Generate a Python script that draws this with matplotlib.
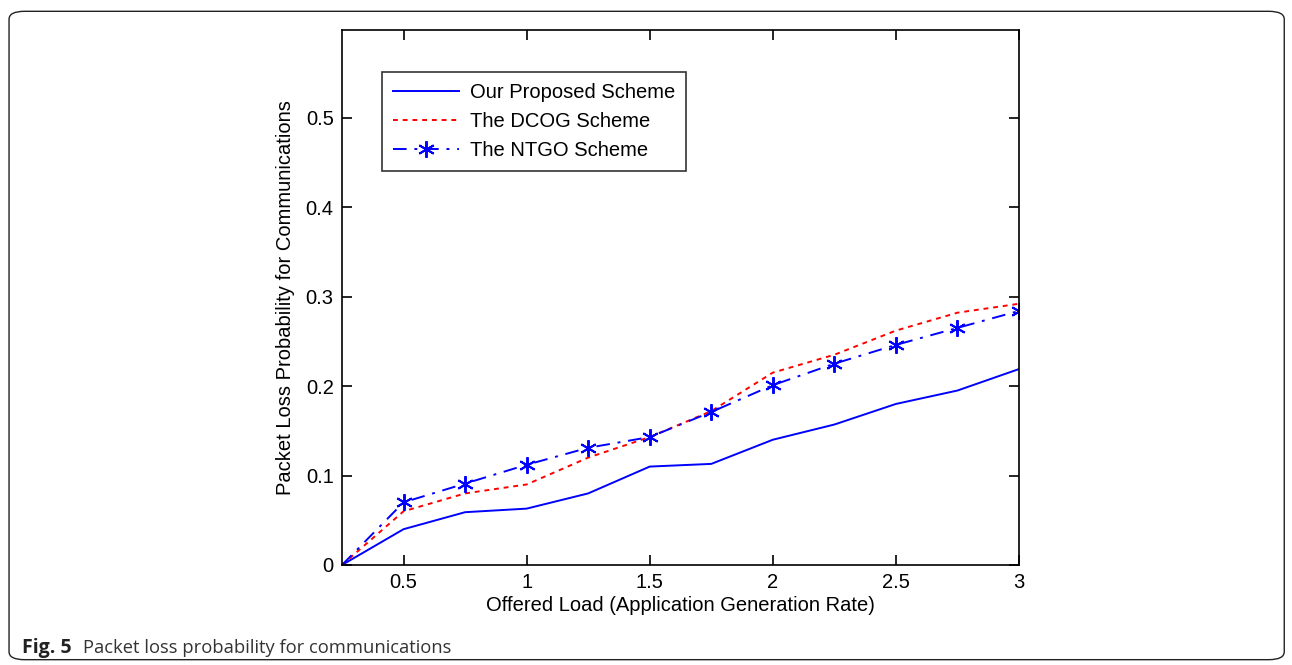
import matplotlib
matplotlib.use("Agg")
import matplotlib.pyplot as plt
from matplotlib.patches import FancyBboxPatch

plt.rcParams["font.family"] = ["Liberation Sans", "DejaVu Sans"]

load = [0.25, 0.5, 0.75, 1.0, 1.25, 1.5, 1.75, 2.0, 2.25, 2.5, 2.75, 3.0]
proposed = [0.0, 0.040, 0.059, 0.063, 0.080, 0.110, 0.113, 0.140, 0.157, 0.180, 0.195, 0.219]
dcog = [0.0, 0.060, 0.080, 0.090, 0.120, 0.143, 0.172, 0.215, 0.235, 0.262, 0.282, 0.292]
ntgo = [0.0, 0.070, 0.091, 0.112, 0.131, 0.143, 0.171, 0.201, 0.225, 0.246, 0.265, 0.284]
xticks = [0.5, 1, 1.5, 2, 2.5, 3]
yticks = [0, 0.1, 0.2, 0.3, 0.4, 0.5]

fig = plt.figure(figsize=(12.92, 6.65), dpi=100)
fig.patch.set_facecolor("white")

# outer rounded frame of the figure panel
frame = FancyBboxPatch((0.007, 0.008), 0.987, 0.975,
                       boxstyle="round,pad=0,rounding_size=0.012",
                       transform=fig.transFigure, facecolor="none",
                       edgecolor="#222222", linewidth=1.0)
fig.patches.append(frame)

ax = fig.add_axes([0.2647, 0.1504, 0.524, 0.8045])

ls_ntgo = (0, (7, 4, 1.5, 4))
ax.plot(load, proposed, color="blue", linestyle="-", linewidth=1.4,
        label="Our Proposed Scheme")
ax.plot(load, dcog, color="red", linestyle=(0, (2.5, 2.5)), linewidth=1.4,
        label="The DCOG Scheme")
ax.plot(load, ntgo, color="blue", linestyle=ls_ntgo, linewidth=1.4,
        label="The NTGO Scheme")
ax.plot(load[1:], ntgo[1:], color="blue", linestyle="none", marker=(6, 2, 0),
        markersize=12, markeredgewidth=1.4)
# legend handle for NTGO with marker
h_ntgo, = ax.plot([], [], color="blue", linestyle=ls_ntgo, linewidth=1.4,
                  marker=(6, 2, 0), markersize=12, markeredgewidth=1.4)
handles, labels = ax.get_legend_handles_labels()
handles = [handles[0], handles[1], h_ntgo]

ax.set_xlim(0.25, 3)
ax.set_ylim(0, 0.598)
ax.set_xticks(xticks)
ax.set_xticklabels(["0.5", "1", "1.5", "2", "2.5", "3"])
ax.set_yticks(yticks)
ax.set_yticklabels(["0", "0.1", "0.2", "0.3", "0.4", "0.5"])
ax.tick_params(direction="in", top=True, right=True, length=7,
               width=1.2, labelsize=14.5, pad=6)
for s in ax.spines.values():
    s.set_linewidth(1.2)

ax.set_xlabel("Offered Load (Application Generation Rate)", fontsize=14.5, labelpad=3)
ax.set_ylabel("Packet Loss Probability for Communications", fontsize=14.5, labelpad=8)

leg = ax.legend(handles, labels, loc="upper left", bbox_to_anchor=(0.059, 0.921),
                fontsize=14.5, frameon=True, fancybox=False, edgecolor="black",
                handlelength=3.3, handletextpad=0.5, borderpad=0.55,
                labelspacing=0.48, borderaxespad=0)
leg.get_frame().set_linewidth(1.2)

fig.text(0.017, 0.018, "Fig. 5", fontsize=14, fontweight="bold",
         color="#222222", family=["Open Sans", "DejaVu Sans"])
fig.text(0.064, 0.018, "Packet loss probability for communications", fontsize=13.2,
         color="#333333", family=["Open Sans", "DejaVu Sans"])

plt.savefig("out.png", dpi=100, facecolor=fig.get_facecolor())
plt.close()
